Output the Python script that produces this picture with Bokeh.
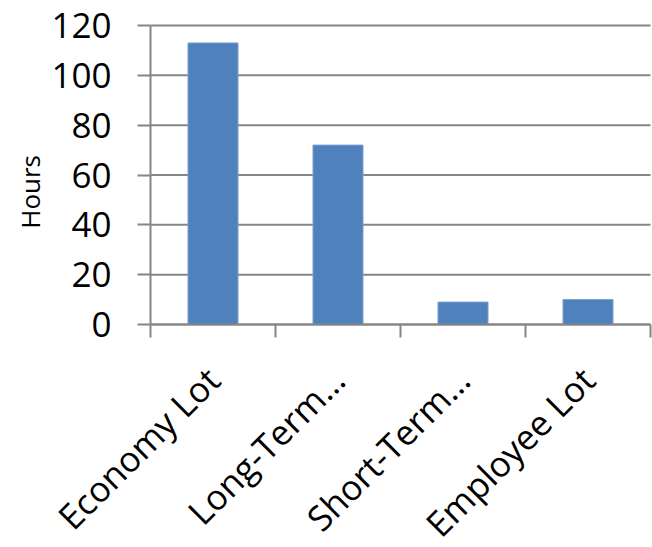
import math
from bokeh.plotting import figure
from bokeh.models import FixedTicker, Range1d, ColumnDataSource
from bokeh.embed import file_html
from bokeh.resources import INLINE

categories = ["Economy Lot", "Long-Term…", "Short-Term…", "Employee Lot"]
hours = [113, 72, 9, 10]
y_ticks = [0, 20, 40, 60, 80, 100, 120]
y_title = "Hours"

FONT = "Open Sans"
GRAY = "#868686"

n = len(categories)
xs = [i + 0.5 for i in range(n)]
src = ColumnDataSource(dict(x=xs, top=hours))
grid_src = ColumnDataSource(dict(x0=[0] * len(y_ticks), x1=[n] * len(y_ticks),
                                 y=y_ticks))

# chart area on the canvas (pixels): x 150..650, y 25..324
W, H = 652, 547
left_px, right_px, top_px, bottom_px = 150, 650, 25, 324
ymax = y_ticks[-1]
x_ppu = (right_px - left_px) / n
y_ppu = (bottom_px - top_px) / ymax
x_range = Range1d(-left_px / x_ppu, n + (W - right_px) / x_ppu)
y_range = Range1d(-(H - bottom_px) / y_ppu, ymax + top_px / y_ppu)

p = figure(width=W, height=H, output_backend="svg", toolbar_location=None,
           x_range=x_range, y_range=y_range,
           min_border_left=0, min_border_right=0, min_border_top=0, min_border_bottom=0)
p.outline_line_color = None
p.xgrid.grid_line_color = None
p.ygrid.grid_line_color = None

# horizontal gridlines limited to the plot area
p.segment(x0="x0", x1="x1", y0="y", y1="y", source=grid_src,
          line_color=GRAY, line_width=2)

p.vbar(x="x", top="top", width=0.4, bottom=0, source=src, fill_color="#4F81BD",
       line_color="#7A9FD0", line_width=1)

# y axis (fixed at x = 0 so it takes no border space)
yax = p.yaxis[0]
yax.fixed_location = 0
yax.bounds = (0, ymax)
yax.ticker = FixedTicker(ticks=y_ticks, minor_ticks=[])
yax.axis_label = y_title + "\u00a0" * 5
yax.axis_label_text_font = FONT
yax.axis_label_text_font_size = "26px"
yax.axis_label_text_font_style = "normal"
yax.axis_label_text_color = "black"
yax.axis_label_standoff = 0
yax.major_label_text_font = FONT
yax.major_label_text_font_size = "35px"
yax.major_label_text_color = "black"
yax.major_label_standoff = 26
yax.major_tick_out = 13
yax.major_tick_in = 0
yax.minor_tick_out = 0
yax.minor_tick_in = 0
yax.axis_line_color = GRAY
yax.axis_line_width = 2
yax.major_tick_line_color = GRAY
yax.major_tick_line_width = 2

# x axis (fixed at y = 0)
xax = p.xaxis[0]
xax.fixed_location = 0
xax.bounds = (0, n)
xax.ticker = FixedTicker(ticks=xs, minor_ticks=list(range(n + 1)))
xax.major_label_overrides = {x: c for x, c in zip(xs, categories)}
xax.major_label_orientation = math.pi / 4
xax.major_label_text_font = FONT
xax.major_label_text_font_size = "35px"
xax.major_label_text_color = "black"
xax.major_label_standoff = 36
xax.major_tick_out = 0
xax.major_tick_in = 0
xax.minor_tick_out = 13
xax.minor_tick_in = 0
xax.minor_tick_line_color = GRAY
xax.minor_tick_line_width = 2
xax.axis_line_color = GRAY
xax.axis_line_width = 2

open("out.html", "w").write(file_html(p, INLINE))
